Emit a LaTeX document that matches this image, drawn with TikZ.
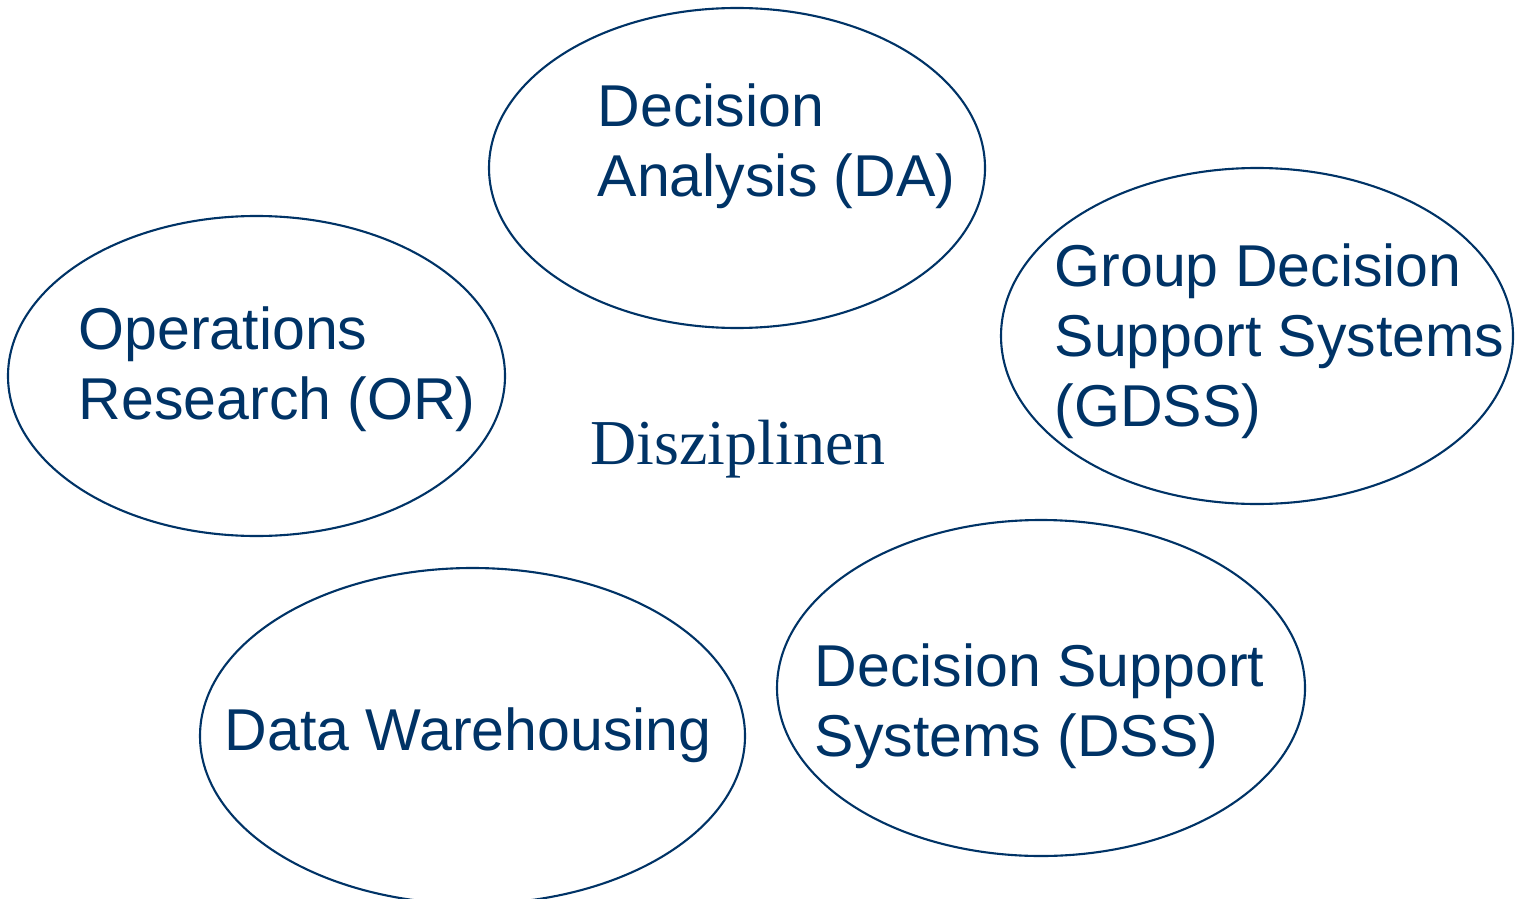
\documentclass[tikz,border=0pt]{standalone}
\usepackage{fontspec}
\setmainfont{Liberation Serif}
\newfontfamily\labelfont{Liberation Sans}
\usetikzlibrary{shapes.geometric}

\definecolor{navy}{HTML}{003366}

\begin{document}
\begin{tikzpicture}[
	field/.style={draw=navy, line width=0.6pt, ellipse, inner sep=0pt},
	fieldtext/.style={anchor=base west, inner sep=0pt, align=left, text=navy,
		font=\labelfont\fontsize{16.8}{19.9}\selectfont}
]
	\useasboundingbox (0,0) rectangle (15.19,-8.98);

	% the five fields
	\node[field, minimum width=4.96cm, minimum height=3.2cm] (da) at (7.37,-1.68) {};
	\node[field, minimum width=4.97cm, minimum height=3.2cm] (or) at (2.565,-3.76) {};
	\node[field, minimum width=5.12cm, minimum height=3.36cm] (gdss) at (12.57,-3.36) {};
	\node[field, minimum width=5.28cm, minimum height=3.36cm] (dss) at (10.41,-6.88) {};
	\begin{scope}
		\clip (0,0) rectangle (15.19,-8.98);
		\node[field, minimum width=5.45cm, minimum height=3.36cm] (dw) at (4.725,-7.36) {};
	\end{scope}

	% labels (base = last line)
	\node[fieldtext] (dalabel) at (5.97,-1.96) {Decision\\Analysis (DA)};
	\node[fieldtext] (orlabel) at (0.78,-4.19) {Operations\\Research (OR)};
	\node[fieldtext] (gdsslabel) at (10.54,-4.26) {Group Decision\\Support Systems\\(GDSS)};
	\node[fieldtext] (dsslabel) at (8.14,-7.56) {Decision Support\\Systems (DSS)};
	\node[fieldtext] (dwlabel) at (2.24,-7.50) {Data Warehousing};

	\node[anchor=base west, inner sep=0pt, text=navy, font=\fontsize{18.2}{20}\selectfont] (title) at (5.90,-4.64) {Disziplinen};

\end{tikzpicture}
\end{document}
